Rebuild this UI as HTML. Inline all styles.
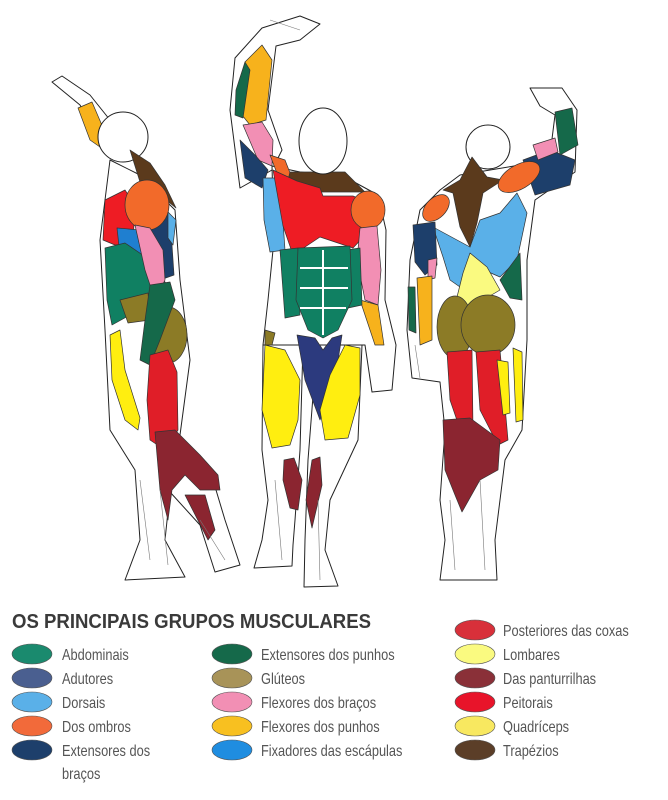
<!DOCTYPE html>
<html><head><meta charset="utf-8"><style>
html,body{margin:0;padding:0;background:#fff;width:668px;height:800px;overflow:hidden}
svg{display:block}
.t{font-family:"Liberation Sans",sans-serif;font-size:16px;fill:#555}
.h{font-family:"Liberation Sans",sans-serif;font-size:20px;font-weight:bold;fill:#3a3a3a}
.o{fill:#fff;stroke:#222;stroke-width:1;stroke-linejoin:round}
.m{stroke:#333;stroke-width:0.7;stroke-linejoin:round}
.e{stroke:#777;stroke-width:0.6}
</style></head><body>
<svg width="668" height="800" viewBox="0 0 668 800" xmlns="http://www.w3.org/2000/svg">
<!-- LEFT FIGURE -->
<g>
<path class="o" d="M120,150 L100,140 L80,105 L52,82 L62,76 L90,95 L110,120 L135,142 Z"/>
<path class="o" d="M110,160 L140,175 L175,210 L180,280 L185,320 L190,360 L178,450 L210,470 L225,520 L240,565 L215,572 L200,525 L170,492 L165,540 L185,577 L125,580 L140,540 L135,470 L110,430 L105,330 L100,240 Z"/>
<polygon class="m" fill="#f7b21c" points="78,108 92,102 104,130 100,147 90,140"/>
<circle class="o" cx="123" cy="137" r="25"/>
<polygon class="m" fill="#5b3a1c" points="130,150 150,163 165,185 176,208 160,195 140,182"/>
<polygon class="m" fill="#ee1c24" points="105,200 125,190 135,205 133,243 115,245 103,240"/>
<polygon class="m" fill="#1f7fd0" points="117,228 140,230 142,257 120,255"/>
<polygon class="m" fill="#1d3f6b" points="150,212 170,215 174,275 160,280 150,250"/>
<polygon class="m" fill="#5ab0e8" points="168,212 176,220 173,245 168,238"/>
<polygon class="m" fill="#108062" points="105,248 125,243 150,260 167,285 165,313 130,315 112,325 107,300"/>
<ellipse class="m" fill="#f26a2a" cx="147" cy="205" rx="22" ry="25"/>
<polygon class="m" fill="#f28fb4" points="135,225 150,228 163,250 165,280 155,300 145,270"/>
<polygon class="m" fill="#8c7b26" points="120,300 148,293 150,320 128,323"/>
<ellipse class="m" fill="#8c7b26" cx="168" cy="335" rx="19" ry="28"/>
<polygon class="m" fill="#15694a" points="150,285 170,282 175,300 160,340 150,365 140,360 145,320"/>
<polygon class="m" fill="#ffee10" points="110,335 120,330 125,370 140,418 138,430 125,420 112,380"/>
<polygon class="m" fill="#e01e28" points="150,355 168,350 177,372 178,430 165,450 150,440 147,400"/>
<polygon class="m" fill="#8b2530" points="155,432 175,430 200,455 218,475 220,490 200,490 185,475 172,490 168,520 160,490"/>
<polygon class="m" fill="#8b2530" points="185,495 205,495 215,530 208,540"/>
<path fill="none" class="e" d="M140,480 L150,560 M160,490 L168,565 M200,520 L225,560"/>
</g>
<!-- MIDDLE FIGURE -->
<g>
<path class="o" d="M272,170 L240,188 L230,110 L235,58 L262,28 L300,16 L320,24 L300,40 L276,46 L268,110 L282,150 Z"/>
<path class="o" d="M272,166 L300,172 L345,177 L378,195 L386,230 L385,300 L396,345 L392,390 L372,392 L365,345 L360,345 L263,345 L268,300 L274,240 Z"/>
<path class="o" d="M263,345 L303,345 L300,450 L295,520 L293,545 L292,566 L254,568 L262,540 L268,500 L262,450 Z"/>
<path class="o" d="M317,345 L362,345 L358,440 L330,500 L325,550 L338,586 L304,587 L305,540 L308,460 Z"/>
<polygon class="m" fill="#f7b21c" points="245,62 262,45 272,60 266,120 250,125 238,110"/>
<polygon class="m" fill="#15694a" points="236,90 245,62 250,70 243,118 235,115"/>
<polygon class="m" fill="#f28fb4" points="243,125 262,122 273,140 272,166 258,160"/>
<polygon class="m" fill="#1d3f6b" points="240,140 255,155 268,170 262,188 245,178"/>
<polygon class="m" fill="#f26a2a" points="270,155 285,160 292,178 278,176"/>
<polygon class="m" fill="#5ab0e8" points="263,178 280,178 285,250 270,252 264,220"/>
<polygon class="m" fill="#5b3a1c" points="290,172 345,172 365,192 285,192"/>
<ellipse class="o" cx="323" cy="141" rx="24" ry="33"/>
<polygon class="m" fill="#ee1c24" points="273,170 297,181 320,188 323,196 353,196 370,203 367,233 353,248 320,237 293,255 283,226"/>
<ellipse class="m" fill="#f26a2a" cx="368" cy="210" rx="17" ry="19"/>
<polygon class="m" fill="#f28fb4" points="360,228 377,226 381,270 378,305 365,300 357,260"/>
<polygon class="m" fill="#f7b21c" points="360,300 378,305 384,345 375,345"/>
<polygon class="m" fill="#108062" points="280,250 298,248 300,315 285,318"/>
<polygon class="m" fill="#108062" points="346,250 360,248 362,305 348,308"/>
<path class="m" fill="#108062" d="M298,248 L350,246 L352,300 L338,330 L323,338 L308,330 L296,300 Z"/>
<path fill="none" stroke="#fff" stroke-width="2" d="M323,250 L323,335 M300,268 L348,268 M300,288 L348,288 M300,308 L346,308"/>
<polygon class="m" fill="#8c7b26" points="265,330 275,333 272,345 265,345"/>
<polygon class="m" fill="#2c3a7e" points="297,335 315,338 323,350 332,338 342,335 335,380 320,420 305,380"/>
<polygon class="m" fill="#ffee10" points="265,345 285,350 300,380 298,420 290,445 272,448 262,410"/>
<polygon class="m" fill="#ffee10" points="345,345 360,348 360,395 348,438 325,440 320,410 330,375"/>
<polygon class="m" fill="#8b2530" points="284,460 294,458 302,480 298,510 290,508 283,480"/>
<polygon class="m" fill="#8b2530" points="312,460 320,457 322,485 312,528 306,500"/>
<path fill="none" class="e" d="M275,480 L282,560 M318,500 L320,580 M270,20 L300,30"/>
</g>
<!-- RIGHT FIGURE -->
<g>
<path class="o" d="M460,175 L440,190 L420,210 L410,260 L407,330 L412,378 L440,382 L445,430 L440,500 L445,540 L440,580 L497,580 L495,540 L505,460 L522,430 L527,340 L527,260 L535,200 L575,172 L577,110 L562,88 L530,88 L540,106 L555,115 L550,155 L520,165 Z"/>
<circle class="o" cx="488" cy="147" r="22"/>
<polygon class="m" fill="#1d3f6b" points="523,160 550,150 575,160 570,185 535,195"/>
<polygon class="m" fill="#f28fb4" points="533,145 555,138 558,152 538,160"/>
<polygon class="m" fill="#15694a" points="555,112 572,108 578,145 560,155"/>
<polygon class="m" fill="#5ab0e8" points="433,227 470,247 480,220 500,213 517,193 527,213 517,260 500,277 477,267 460,287 450,280 443,257"/>
<polygon class="m" fill="#15694a" points="500,280 520,253 522,300 510,298"/>
<polygon class="m" fill="#5b3a1c" points="472,157 487,177 503,180 483,193 477,223 470,247 460,227 453,193 443,190 460,180"/>
<ellipse class="m" fill="#f26a2a" cx="436" cy="208" rx="16" ry="10" transform="rotate(-45 436 208)"/>
<ellipse class="m" fill="#f26a2a" cx="519" cy="177" rx="23" ry="12" transform="rotate(-30 519 177)"/>
<polygon class="m" fill="#fafa80" points="470,253 487,267 500,290 483,300 470,313 457,297 463,273"/>
<polygon class="m" fill="#1d3f6b" points="413,225 435,222 437,265 425,275 415,262"/>
<polygon class="m" fill="#f28fb4" points="428,260 437,258 435,278 428,280"/>
<polygon class="m" fill="#f7b21c" points="417,278 432,276 432,340 420,345"/>
<polygon class="m" fill="#15694a" points="408,287 415,287 416,333 409,330"/>
<ellipse class="m" fill="#8c7b26" cx="455" cy="327" rx="18" ry="31"/>
<ellipse class="m" fill="#8c7b26" cx="488" cy="325" rx="27" ry="30"/>
<polygon class="m" fill="#e01e28" points="447,352 472,350 473,430 462,435 450,400"/>
<polygon class="m" fill="#e01e28" points="476,352 500,350 508,440 498,445 480,410"/>
<polygon class="m" fill="#ffee10" points="497,360 508,362 510,413 503,415"/>
<polygon class="m" fill="#ffee10" points="513,348 522,352 523,420 516,422"/>
<polygon class="m" fill="#8b2530" points="443,420 470,418 500,440 498,470 480,480 462,512 455,495 445,470"/>
<path fill="none" class="e" d="M450,500 L455,570 M480,480 L485,570 M415,345 L420,378"/>
</g>
<!-- LEGEND -->
<g transform="translate(12,628) scale(0.93,1)"><text class="h" x="0" y="0">OS PRINCIPAIS GRUPOS MUSCULARES</text></g>
<g stroke="#555" stroke-width="0.6">
<ellipse cx="32" cy="654" rx="20" ry="10" fill="#1a8a6e"/>
<ellipse cx="32" cy="678" rx="20" ry="10" fill="#4a5f90"/>
<ellipse cx="32" cy="702" rx="20" ry="10" fill="#5ab0e8"/>
<ellipse cx="32" cy="726" rx="20" ry="10" fill="#f26a3a"/>
<ellipse cx="32" cy="750" rx="20" ry="10" fill="#1d3f6b"/>
<ellipse cx="232" cy="654" rx="20" ry="10" fill="#15694a"/>
<ellipse cx="232" cy="678" rx="20" ry="10" fill="#a89358"/>
<ellipse cx="232" cy="702" rx="20" ry="10" fill="#f28fb4"/>
<ellipse cx="232" cy="726" rx="20" ry="10" fill="#f8c020"/>
<ellipse cx="232" cy="750" rx="20" ry="10" fill="#1f8de0"/>
<ellipse cx="475" cy="630" rx="20" ry="10" fill="#d8303a"/>
<ellipse cx="475" cy="654" rx="20" ry="10" fill="#fafa80"/>
<ellipse cx="475" cy="678" rx="20" ry="10" fill="#8a3038"/>
<ellipse cx="475" cy="702" rx="20" ry="10" fill="#e8142a"/>
<ellipse cx="475" cy="726" rx="20" ry="10" fill="#f8e860"/>
<ellipse cx="475" cy="750" rx="20" ry="10" fill="#5b3e28"/>
</g>
<g transform="translate(62,0) scale(0.8,1)">
<text class="t" x="0" y="660">Abdominais</text>
<text class="t" x="0" y="684">Adutores</text>
<text class="t" x="0" y="708">Dorsais</text>
<text class="t" x="0" y="732">Dos ombros</text>
<text class="t" x="0" y="756">Extensores dos</text>
<text class="t" x="0" y="779">braços</text>
</g>
<g transform="translate(261,0) scale(0.8,1)">
<text class="t" x="0" y="660">Extensores dos punhos</text>
<text class="t" x="0" y="684">Glúteos</text>
<text class="t" x="0" y="708">Flexores dos braços</text>
<text class="t" x="0" y="732">Flexores dos punhos</text>
<text class="t" x="0" y="756">Fixadores das escápulas</text>
</g>
<g transform="translate(503,0) scale(0.8,1)">
<text class="t" x="0" y="636">Posteriores das coxas</text>
<text class="t" x="0" y="660">Lombares</text>
<text class="t" x="0" y="684">Das panturrilhas</text>
<text class="t" x="0" y="708">Peitorais</text>
<text class="t" x="0" y="732">Quadríceps</text>
<text class="t" x="0" y="756">Trapézios</text>
</g>
</svg>
</body></html>
